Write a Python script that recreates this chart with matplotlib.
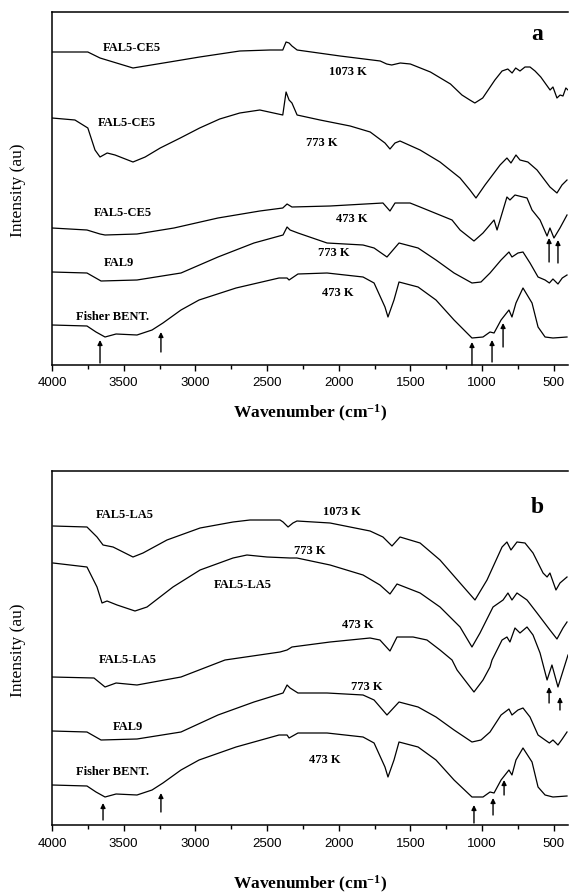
import matplotlib
matplotlib.use("Agg")
import matplotlib.pyplot as plt
from matplotlib.ticker import MultipleLocator

plt.rcParams["mathtext.fontset"] = "custom"
plt.rcParams["mathtext.rm"] = "Liberation Serif:bold"
plt.rcParams["mathtext.bf"] = "Liberation Serif:bold"
plt.rcParams["mathtext.default"] = "rm"

# ---------------- data (wavenumber cm-1, intensity in arbitrary units) ----------------
# Panel a
a_ce5_1073_wn = [4000, 3750, 3665, 3435, 3350, 3180, 2970, 2690, 2480, 2390, 2367, 2346, 2326, 2290,
                 1990, 1710, 1665, 1630, 1570, 1500, 1360, 1220, 1140, 1085, 1050, 995, 910, 860, 820,
                 790, 765, 735, 700, 665, 630, 590, 555, 525, 505, 477, 455, 435, 415, 400]
a_ce5_1073_i = [313, 313, 307, 297, 299, 303, 308, 314, 315, 315, 323, 322, 319, 315,
                309, 304, 301, 300, 302, 301, 293, 281, 270, 265, 262, 267, 285, 294, 296,
                292, 297, 294, 298, 298, 294, 288, 281, 275, 278, 267, 270, 269, 277, 275]

a_ce5_773_wn = [4000, 3840, 3750, 3700, 3665, 3615, 3560, 3435, 3350, 3245, 3105, 2970, 2830, 2690,
                2550, 2390, 2367, 2346, 2326, 2290, 2130, 1920, 1780, 1677, 1642, 1607, 1572, 1432,
                1293, 1153, 1084, 1042, 979, 874, 826, 798, 763, 735, 680, 616, 526, 477, 442, 407]
a_ce5_773_i = [247, 245, 237, 215, 208, 212, 210, 203, 208, 217, 227, 237, 246, 252,
               255, 250, 273, 265, 262, 250, 245, 239, 233, 222, 216, 222, 224, 215,
               203, 187, 175, 167, 180, 200, 207, 202, 210, 205, 203, 195, 178, 172, 180, 185]

a_ce5_473_wn = [4000, 3756, 3665, 3630, 3407, 3149, 2842, 2550, 2390, 2360, 2326, 2060, 1691, 1642,
                1607, 1502, 1432, 1209, 1153, 1056, 993, 916, 895, 826, 805, 770, 686, 651, 595,
                546, 526, 498, 456, 407]
a_ce5_473_i = [137, 135, 131, 130, 131, 137, 147, 154, 157, 161, 158, 159, 162, 154,
               162, 162, 158, 145, 135, 124, 132, 145, 135, 168, 165, 170, 167, 155, 145,
               129, 137, 127, 137, 150]

a_fal9_wn = [4000, 3756, 3658, 3407, 3100, 2842, 2591, 2388, 2360, 2339, 2284, 2081, 1830, 1753,
             1663, 1579, 1446, 1321, 1195, 1070, 1007, 944, 867, 812, 791, 749, 714, 665, 609,
             560, 530, 505, 470, 440, 407]
a_fal9_i = [93, 92, 84, 85, 92, 108, 122, 130, 138, 135, 132, 122, 120, 117,
            108, 122, 117, 105, 92, 82, 83, 92, 105, 113, 108, 112, 113, 102, 88,
            85, 82, 86, 81, 87, 90]

a_bent_wn = [4000, 3756, 3693, 3630, 3553, 3407, 3302, 3226, 3100, 2974, 2716, 2416, 2360, 2346,
             2284, 2081, 1830, 1753, 1677, 1656, 1614, 1579, 1446, 1321, 1195, 1070, 993, 944,
             916, 867, 812, 791, 763, 714, 651, 609, 560, 505, 407]
a_bent_i = [40, 39, 33, 28, 31, 30, 35, 42, 55, 65, 77, 87, 87, 85,
            91, 92, 88, 82, 58, 48, 65, 83, 78, 65, 45, 27, 28, 33,
            32, 45, 55, 48, 62, 77, 62, 38, 28, 27, 28]

# Panel b
b_la5_1073_wn = [3993, 3756, 3686, 3644, 3574, 3435, 3365, 3198, 2967, 2737, 2619, 2409, 2388, 2353,
                 2319, 2291, 2060, 1781, 1691, 1628, 1572, 1432, 1293, 1153, 1049, 965, 860, 826,
                 798, 756, 700, 644, 574, 546, 526, 484, 456, 407]
b_la5_1073_i = [299, 298, 288, 280, 278, 268, 272, 285, 297, 303, 305, 305, 303, 298,
                302, 304, 302, 294, 288, 279, 288, 282, 265, 242, 225, 245, 278, 283,
                275, 283, 282, 272, 252, 248, 252, 235, 242, 248]

b_la5_773_wn = [3993, 3756, 3686, 3651, 3616, 3546, 3421, 3337, 3156, 2967, 2737, 2640, 2500, 2339,
                2291, 2060, 1830, 1712, 1642, 1593, 1432, 1293, 1153, 1070, 1014, 923, 853, 819,
                791, 756, 686, 616, 526, 477, 435, 407]
b_la5_773_i = [262, 258, 238, 222, 224, 220, 214, 218, 238, 255, 267, 270, 268, 267,
               267, 260, 250, 240, 231, 241, 232, 218, 198, 178, 192, 218, 225, 232,
               225, 232, 225, 212, 195, 186, 197, 203]

b_la5_473_wn = [4000, 3707, 3630, 3553, 3407, 3100, 2793, 2409, 2360, 2326, 2060, 1781, 1712, 1642,
                1593, 1481, 1384, 1293, 1209, 1174, 1056, 993, 944, 930, 860, 826, 805, 770, 735,
                686, 644, 595, 546, 512, 470, 400]
b_la5_473_i = [148, 147, 138, 142, 140, 148, 165, 173, 175, 178, 183, 187, 185, 174,
               188, 188, 185, 175, 165, 155, 133, 145, 158, 165, 185, 188, 183, 197, 192,
               198, 190, 172, 145, 160, 138, 170]

b_fal9_wn = [4000, 3756, 3658, 3407, 3100, 2842, 2591, 2388, 2360, 2339, 2284, 2081, 1830, 1753,
             1663, 1579, 1446, 1321, 1195, 1070, 1007, 944, 867, 812, 791, 749, 714, 665, 609,
             560, 530, 505, 470, 440, 407]
b_fal9_i = [94, 93, 85, 86, 93, 110, 123, 132, 140, 137, 132, 132, 130, 125,
            110, 123, 118, 108, 95, 83, 85, 93, 110, 116, 110, 115, 117, 108, 90,
            85, 82, 85, 80, 86, 93]

b_bent_wn = [4000, 3756, 3693, 3630, 3553, 3407, 3302, 3226, 3100, 2974, 2716, 2416, 2360, 2346,
             2284, 2081, 1830, 1753, 1677, 1656, 1614, 1579, 1446, 1321, 1195, 1070, 993, 944,
             916, 867, 812, 791, 763, 714, 651, 609, 560, 505, 407]
b_bent_i = [40, 39, 33, 28, 31, 30, 35, 42, 55, 65, 78, 90, 90, 87,
            92, 92, 88, 82, 58, 48, 65, 83, 78, 65, 45, 28, 28, 33,
            32, 45, 55, 50, 65, 77, 63, 38, 30, 28, 29]

# labels: (text, wavenumber, intensity)
a_labels = [("FAL5-CE5", 3442, 317), ("1073 K", 1935, 293),
            ("FAL5-CE5", 3477, 242), ("773 K", 2116, 222),
            ("FAL5-CE5", 3505, 152), ("473 K", 1907, 146),
            ("FAL9", 3533, 102), ("773 K", 2032, 112),
            ("Fisher BENT.", 3581, 48), ("473 K", 2005, 72)]
b_labels = [("FAL5-LA5", 3491, 310), ("1073 K", 1977, 313),
            ("773 K", 2200, 274), ("FAL5-LA5", 2667, 240),
            ("473 K", 1865, 200), ("FAL5-LA5", 3470, 165),
            ("FAL9", 3470, 98), ("773 K", 1802, 138),
            ("Fisher BENT.", 3581, 53), ("473 K", 2095, 65)]

# arrows: (wavenumber, intensity start, intensity end)
a_arrows = [(3665, 2, 25), (3240, 13, 33), (1070, 0, 23), (930, 3, 25), (853, 18, 42),
            (532, 103, 127), (470, 102, 125)]
b_arrows = [(3644, 5, 22), (3240, 13, 32), (1056, 2, 20), (923, 10, 27), (846, 30, 45),
            (532, 122, 138), (456, 115, 128)]

panel_a = [(a_ce5_1073_wn, a_ce5_1073_i), (a_ce5_773_wn, a_ce5_773_i), (a_ce5_473_wn, a_ce5_473_i),
           (a_fal9_wn, a_fal9_i), (a_bent_wn, a_bent_i)]
panel_b = [(b_la5_1073_wn, b_la5_1073_i), (b_la5_773_wn, b_la5_773_i), (b_la5_473_wn, b_la5_473_i),
           (b_fal9_wn, b_fal9_i), (b_bent_wn, b_bent_i)]

# ---------------- figure ----------------
W, H = 570, 896
fig = plt.figure(figsize=(W / 100, H / 100), dpi=100)

serif = ["Liberation Serif", "DejaVu Serif"]
sans = ["Liberation Sans", "DejaVu Sans"]


def make_panel(top_px, bot_px, series, labels, arrows, letter):
    left, right = 52 / W, 568 / W
    ax = fig.add_axes([left, 1 - bot_px / H, right - left, (bot_px - top_px) / H])
    for wn, inten in series:
        ax.plot(wn, inten, color="black", lw=0.9)
    for txt, x, y in labels:
        ax.text(x, y, txt, ha="center", va="center", fontsize=9, fontweight="bold",
                family=serif)
    for x, y0, y1 in arrows:
        ax.annotate("", xy=(x, y1), xytext=(x, y0),
                    arrowprops=dict(arrowstyle="-|>", color="black", lw=1.0,
                                    mutation_scale=7, shrinkA=0, shrinkB=0))
    ax.text(616, 330 if letter == "a" else 318, letter, ha="center", va="center",
            fontsize=17, fontweight="bold", family=serif)
    ax.set_xlim(4000, 400)
    ax.set_ylim(0, (bot_px - top_px))
    ax.xaxis.set_major_locator(MultipleLocator(500))
    ax.xaxis.set_minor_locator(MultipleLocator(250))
    ax.tick_params(axis="x", which="major", direction="out", length=4, width=1.0,
                   labelsize=9.5, pad=5, top=False)
    ax.tick_params(axis="x", which="minor", direction="out", length=3, width=1.0, top=False)
    ax.set_yticks([])
    for lab in ax.get_xticklabels():
        lab.set_family(sans)
    ax.spines["right"].set_visible(False)
    for s in ("top", "left", "bottom"):
        ax.spines[s].set_linewidth(1.1)
    return ax


make_panel(12, 365, panel_a, a_labels, a_arrows, "a")
make_panel(471, 825, panel_b, b_labels, b_arrows, "b")

xlabel = "Wavenumber (cm$^{-1}$)"
fig.text(310 / W, 1 - 413 / H, xlabel, ha="center", va="center",
         fontsize=12.5, fontweight="bold", family=serif)
fig.text(310 / W, 1 - 884 / H, xlabel, ha="center", va="center",
         fontsize=12.5, fontweight="bold", family=serif)
fig.text(18 / W, 1 - 190 / H, "Intensity (au)", rotation=90, ha="center", va="center",
         fontsize=12.5, family=serif)
fig.text(18 / W, 1 - 650 / H, "Intensity (au)", rotation=90, ha="center", va="center",
         fontsize=12.5, family=serif)

fig.savefig("out.png", dpi=100)
